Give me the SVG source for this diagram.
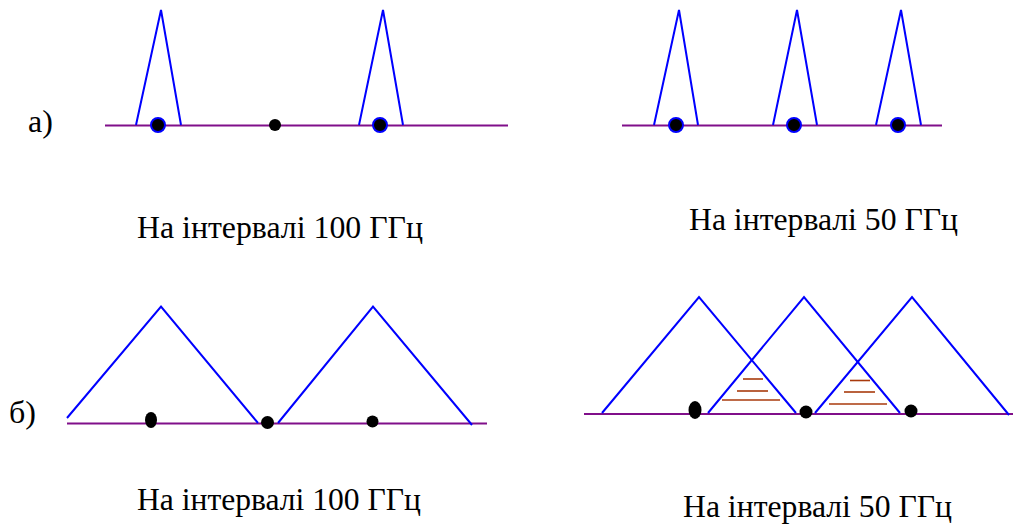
<svg xmlns="http://www.w3.org/2000/svg" width="1016" height="524" viewBox="0 0 1016 524">
<style>
.axis{stroke:#800f8a;stroke-width:2;fill:none}
.tri{stroke:#0000ff;stroke-width:2;fill:none;stroke-linejoin:miter}
.ch{fill:#000;stroke:#0000ff;stroke-width:2}
.dot{fill:#000}
.hatch{stroke:#a83a0c;stroke-width:1.6}
.lbl{font-family:"Liberation Serif","DejaVu Serif",serif;font-size:32px;fill:#000}
</style>
<rect width="1016" height="524" fill="#fff"/>
<g id="connectors">
<line class="axis" x1="105" y1="125.5" x2="508" y2="125.5"/>
<line class="axis" x1="622" y1="125.5" x2="942" y2="125.5"/>
<line class="axis" x1="67" y1="423.5" x2="487" y2="423.5"/>
<line class="axis" x1="584" y1="414" x2="1013" y2="414"/>
</g>
<g id="label-a"><text class="lbl" x="28" y="132">а)</text></g>
<g id="label-b"><text class="lbl" x="9" y="423">б)</text></g>
<g id="a-left">
<polyline class="tri" points="136,125 161,10 181,125"/>
<polyline class="tri" points="359,125 383,10 403,125"/>
<circle class="ch" cx="158" cy="125" r="7"/>
<circle class="dot" cx="275" cy="125" r="6"/>
<circle class="ch" cx="380" cy="125" r="7"/>
<text class="lbl" x="137" y="237.5" textLength="286" lengthAdjust="spacingAndGlyphs">На інтервалі 100 ГГц</text>
</g>
<g id="a-right">
<polyline class="tri" points="654,125 679,10 698,125"/>
<polyline class="tri" points="773,125 797,10 817,125"/>
<polyline class="tri" points="876,125 901,10 921,125"/>
<circle class="ch" cx="676" cy="125" r="7"/>
<circle class="ch" cx="794" cy="125" r="7"/>
<circle class="ch" cx="898" cy="125" r="7"/>
<text class="lbl" x="689" y="229.5" textLength="269" lengthAdjust="spacingAndGlyphs">На інтервалі 50 ГГц</text>
</g>
<g id="b-left">
<polyline class="tri" points="67,418 161,306.5 258,423"/>
<polyline class="tri" points="278,423 373,306.5 472,425"/>
<ellipse class="dot" cx="151" cy="420" rx="6" ry="8"/>
<circle class="dot" cx="267.5" cy="422.5" r="6.5"/>
<circle class="dot" cx="372.5" cy="421.5" r="6"/>
<text class="lbl" x="137" y="510" textLength="284" lengthAdjust="spacingAndGlyphs">На інтервалі 100 ГГц</text>
</g>
<g id="b-right">
<polyline class="tri" points="602,413 699,297 796,413"/>
<polyline class="tri" points="708,413 804,297 900,413"/>
<polyline class="tri" points="815,413 912,297 1009,415"/>
<line class="hatch" x1="743" y1="379" x2="763" y2="379"/>
<line class="hatch" x1="737" y1="391" x2="768" y2="391"/>
<line class="hatch" x1="722" y1="400" x2="780" y2="400"/>
<line class="hatch" x1="850" y1="380.5" x2="870" y2="380.5"/>
<line class="hatch" x1="844" y1="392" x2="875" y2="392"/>
<line class="hatch" x1="829" y1="404" x2="887" y2="404"/>
<ellipse class="dot" cx="695" cy="410" rx="6.5" ry="9"/>
<circle class="dot" cx="806" cy="412" r="6.5"/>
<circle class="dot" cx="911" cy="411" r="6.5"/>
<text class="lbl" x="683" y="516.5" textLength="269" lengthAdjust="spacingAndGlyphs">На інтервалі 50 ГГц</text>
</g>
</svg>
